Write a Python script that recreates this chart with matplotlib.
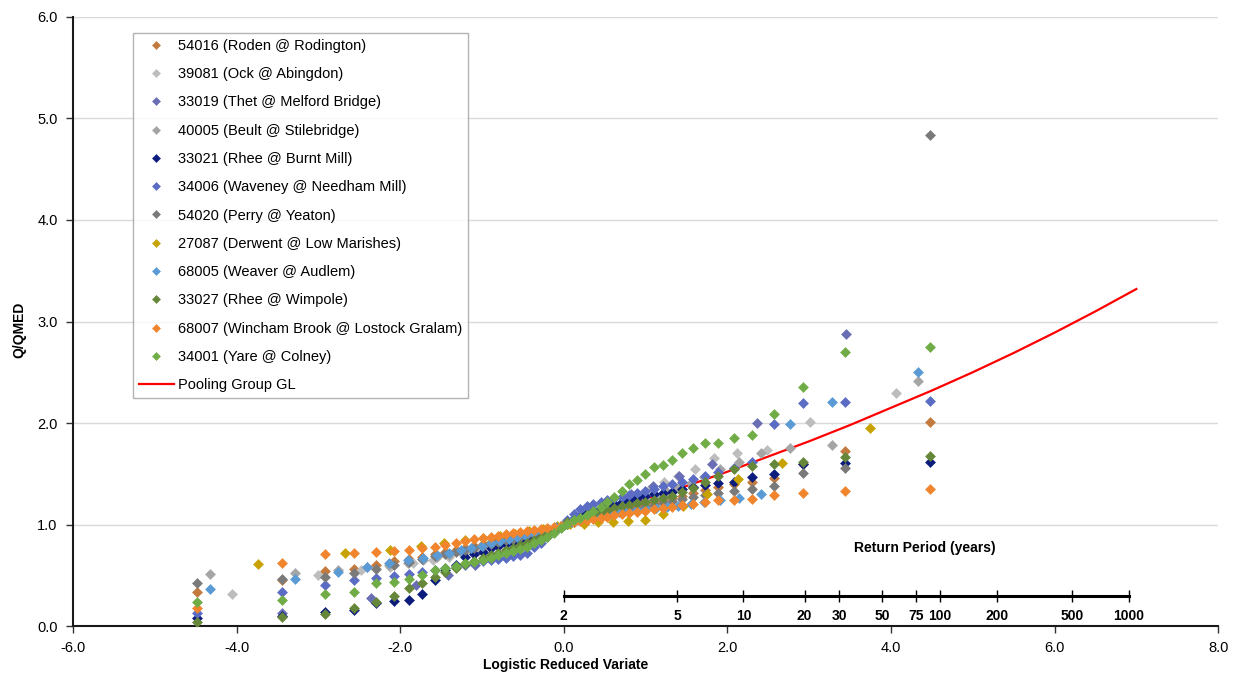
import numpy as np
import matplotlib
matplotlib.use("Agg")
import matplotlib.pyplot as plt
from matplotlib.ticker import NullLocator

plt.rcParams["font.family"] = ["Liberation Sans", "DejaVu Sans"]

# ── plotting positions (logistic reduced variate) per record length ─────────
X50 = [-4.48, -3.44, -2.92, -2.57, -2.30, -2.08, -1.89, -1.73, -1.58, -1.45,
       -1.32, -1.21, -1.10, -0.99, -0.89, -0.80, -0.71, -0.62, -0.53, -0.45,
       -0.36, -0.28, -0.20, -0.12, -0.04, 0.04, 0.12, 0.20, 0.28, 0.36,
       0.45, 0.53, 0.62, 0.71, 0.80, 0.89, 0.99, 1.10, 1.21, 1.32,
       1.45, 1.58, 1.73, 1.89, 2.08, 2.30, 2.57, 2.92, 3.44, 4.48]
X43 = [-4.33, -3.28, -2.76, -2.41, -2.14, -1.91, -1.72, -1.55, -1.40, -1.26,
       -1.13, -1.00, -0.89, -0.78, -0.67, -0.57, -0.47, -0.38, -0.28, -0.19,
       -0.09, 0.00, 0.09, 0.19, 0.28, 0.38, 0.47, 0.57, 0.67, 0.78,
       0.89, 1.00, 1.13, 1.26, 1.40, 1.55, 1.72, 1.91, 2.14, 2.41,
       2.76, 3.28, 4.33]
X33 = [-4.06, -3.01, -2.48, -2.12, -1.84, -1.60, -1.40, -1.22, -1.05, -0.90,
       -0.76, -0.62, -0.49, -0.37, -0.24, -0.12, 0.00, 0.12, 0.24, 0.37,
       0.49, 0.62, 0.76, 0.90, 1.05, 1.22, 1.40, 1.60, 1.84, 2.12,
       2.48, 3.01, 4.06]
X24 = [-3.74, -2.67, -2.13, -1.75, -1.46, -1.21, -0.99, -0.78, -0.60, -0.42,
       -0.25, -0.08, 0.08, 0.25, 0.42, 0.60, 0.78, 0.99, 1.21, 1.46,
       1.75, 2.13, 2.67, 3.74]
X18 = [-3.45, -2.36, -1.81, -1.41, -1.09, -0.82, -0.57, -0.33, -0.11,
       0.11, 0.33, 0.57, 0.82, 1.09, 1.41, 1.81, 2.36, 3.45]

# ── Q/QMED per station (sorted) ─────────────────────────────────────────────
roden = [0.34, 0.45, 0.54, 0.56, 0.60, 0.64, 0.66, 0.68, 0.71, 0.73,
         0.75, 0.77, 0.79, 0.81, 0.83, 0.85, 0.86, 0.88, 0.90, 0.91,
         0.93, 0.94, 0.96, 0.97, 0.99, 1.01, 1.02, 1.04, 1.05, 1.07,
         1.08, 1.10, 1.11, 1.13, 1.15, 1.17, 1.19, 1.21, 1.23, 1.26,
         1.28, 1.31, 1.34, 1.37, 1.40, 1.42, 1.46, 1.60, 1.72, 2.01]
ock = [0.32, 0.50, 0.55, 0.58, 0.62, 0.65, 0.68, 0.71, 0.74, 0.77,
       0.80, 0.83, 0.86, 0.89, 0.93, 0.96, 1.00, 1.04, 1.08, 1.12,
       1.16, 1.20, 1.25, 1.30, 1.35, 1.42, 1.48, 1.55, 1.66, 1.70,
       1.73, 2.01, 2.30]
thet = [0.13, 0.28, 0.40, 0.50, 0.60, 0.68, 0.76, 0.85, 0.95,
        1.05, 1.15, 1.22, 1.30, 1.38, 1.48, 1.60, 2.00, 2.88]
beult = [0.51, 0.52, 0.55, 0.58, 0.60, 0.62, 0.65, 0.68, 0.70, 0.73,
         0.75, 0.78, 0.80, 0.83, 0.85, 0.87, 0.90, 0.92, 0.94, 0.96,
         0.98, 1.00, 1.02, 1.04, 1.06, 1.08, 1.11, 1.13, 1.16, 1.19,
         1.22, 1.25, 1.28, 1.32, 1.36, 1.41, 1.47, 1.55, 1.62, 1.70,
         1.75, 1.78, 2.41]
burnt_mill = [0.08, 0.10, 0.14, 0.16, 0.23, 0.25, 0.26, 0.32, 0.45, 0.55,
              0.60, 0.68, 0.71, 0.73, 0.77, 0.79, 0.81, 0.83, 0.85, 0.87,
              0.89, 0.92, 0.94, 0.97, 0.99, 1.01, 1.05, 1.08, 1.11, 1.13,
              1.16, 1.18, 1.20, 1.22, 1.24, 1.26, 1.28, 1.30, 1.31, 1.32,
              1.35, 1.37, 1.39, 1.41, 1.42, 1.47, 1.50, 1.60, 1.61, 1.62]
waveney = [0.13, 0.34, 0.40, 0.45, 0.47, 0.49, 0.51, 0.53, 0.55, 0.57,
           0.58, 0.60, 0.62, 0.64, 0.65, 0.66, 0.67, 0.69, 0.70, 0.72,
           0.78, 0.82, 0.88, 0.93, 0.98, 1.04, 1.10, 1.15, 1.18, 1.20,
           1.22, 1.24, 1.26, 1.27, 1.29, 1.31, 1.33, 1.35, 1.38, 1.40,
           1.42, 1.45, 1.48, 1.52, 1.56, 1.62, 1.99, 2.20, 2.21, 2.22]
perry = [0.42, 0.46, 0.48, 0.52, 0.56, 0.60, 0.63, 0.66, 0.69, 0.71,
         0.73, 0.75, 0.77, 0.79, 0.81, 0.83, 0.85, 0.86, 0.88, 0.90,
         0.92, 0.93, 0.95, 0.97, 0.99, 1.01, 1.02, 1.04, 1.05, 1.07,
         1.08, 1.10, 1.11, 1.12, 1.14, 1.15, 1.17, 1.19, 1.21, 1.23,
         1.25, 1.27, 1.29, 1.31, 1.33, 1.35, 1.38, 1.51, 1.56, 4.84]
derwent = [0.61, 0.72, 0.75, 0.79, 0.82, 0.85, 0.87, 0.89, 0.91, 0.94,
           0.96, 0.99, 1.01, 1.01, 1.02, 1.02, 1.03, 1.04, 1.10, 1.18,
           1.30, 1.45, 1.61, 1.95]
weaver = [0.36, 0.46, 0.53, 0.58, 0.62, 0.65, 0.67, 0.70, 0.72, 0.75,
          0.77, 0.79, 0.82, 0.84, 0.86, 0.88, 0.90, 0.92, 0.94, 0.96,
          0.98, 1.00, 1.02, 1.04, 1.06, 1.08, 1.09, 1.10, 1.12, 1.13,
          1.14, 1.15, 1.16, 1.17, 1.18, 1.20, 1.22, 1.24, 1.26, 1.30,
          1.99, 2.21, 2.50]
wimpole = [0.04, 0.09, 0.12, 0.18, 0.24, 0.30, 0.37, 0.42, 0.48, 0.53,
           0.57, 0.61, 0.64, 0.67, 0.70, 0.72, 0.75, 0.77, 0.80, 0.82,
           0.85, 0.88, 0.91, 0.94, 0.98, 1.02, 1.04, 1.06, 1.08, 1.10,
           1.12, 1.14, 1.16, 1.18, 1.19, 1.21, 1.22, 1.24, 1.26, 1.28,
           1.32, 1.36, 1.42, 1.48, 1.55, 1.58, 1.60, 1.62, 1.67, 1.68]
wincham = [0.18, 0.62, 0.71, 0.72, 0.73, 0.74, 0.75, 0.77, 0.78, 0.80,
           0.82, 0.84, 0.86, 0.87, 0.88, 0.89, 0.91, 0.92, 0.93, 0.94,
           0.95, 0.96, 0.97, 0.98, 0.99, 1.01, 1.02, 1.03, 1.04, 1.05,
           1.06, 1.07, 1.09, 1.10, 1.11, 1.12, 1.13, 1.15, 1.16, 1.17,
           1.19, 1.20, 1.22, 1.24, 1.24, 1.25, 1.29, 1.31, 1.33, 1.35]
yare = [0.24, 0.26, 0.32, 0.34, 0.42, 0.43, 0.46, 0.50, 0.55, 0.57,
        0.59, 0.62, 0.63, 0.65, 0.67, 0.70, 0.72, 0.74, 0.76, 0.78,
        0.82, 0.85, 0.88, 0.92, 0.97, 1.01, 1.04, 1.06, 1.09, 1.13,
        1.17, 1.22, 1.27, 1.33, 1.40, 1.44, 1.50, 1.57, 1.59, 1.64,
        1.70, 1.75, 1.80, 1.80, 1.85, 1.88, 2.09, 2.35, 2.70, 2.75]

stations = [
    ("54016 (Roden @ Rodington)",              X50, roden,      "#C47A3F"),
    ("39081 (Ock @ Abingdon)",                 X33, ock,        "#BDBDBD"),
    ("33019 (Thet @ Melford Bridge)",          X18, thet,       "#6A6FB5"),
    ("40005 (Beult @ Stilebridge)",            X43, beult,      "#A5A5A5"),
    ("33021 (Rhee @ Burnt Mill)",              X50, burnt_mill, "#0B1C7D"),
    ("34006 (Waveney @ Needham Mill)",         X50, waveney,    "#5B6CC4"),
    ("54020 (Perry @ Yeaton)",                 X50, perry,      "#7A7A7A"),
    ("27087 (Derwent @ Low Marishes)",         X24, derwent,    "#C8A200"),
    ("68005 (Weaver @ Audlem)",                X43, weaver,     "#5B9BD5"),
    ("33027 (Rhee @ Wimpole)",                 X50, wimpole,    "#66873A"),
    ("68007 (Wincham Brook @ Lostock Gralam)", X50, wincham,    "#F0852D"),
    ("34001 (Yare @ Colney)",                  X50, yare,       "#70AD47"),
]

# pooling group growth curve
gl_x = [0.0, 0.5, 1.0, 1.5, 2.0, 2.5, 3.0, 3.5, 4.0, 4.5, 5.0, 5.5, 6.0, 6.5, 7.0]
gl_y = [1.00, 1.12, 1.25, 1.38, 1.52, 1.67, 1.82, 1.98, 2.15, 2.32, 2.50,
        2.69, 2.89, 3.10, 3.32]

# return period scale
rp_years = [2, 5, 10, 20, 30, 50, 75, 100, 200, 500, 1000]
rp_level = 0.3

fig = plt.figure(figsize=(12.44, 6.79), dpi=100)
ax = fig.add_axes([0.0587, 0.078, 0.9205, 0.897])

for label, xs, ys, col in stations:
    ax.plot(xs, ys, linestyle="none", marker="D", markersize=4.9,
            color=col, markeredgecolor=col, markeredgewidth=0.4,
            label=label, zorder=3)
ax.plot(gl_x, gl_y, color="#FF0000", lw=1.6, label="Pooling Group GL", zorder=2)

ax.set_xlim(-6, 8)
ax.set_ylim(0, 6)
ax.set_xticks(np.arange(-6, 9, 2))
ax.set_yticks(np.arange(0, 7, 1))
ax.xaxis.set_major_formatter(lambda v, p: f"{v:.1f}")
ax.yaxis.set_major_formatter(lambda v, p: f"{v:.1f}")
ax.tick_params(axis="both", labelsize=10.5, direction="out", length=5,
               width=1, pad=6, color="#333333")
ax.grid(axis="y", color="#D9D9D9", lw=1)
ax.set_axisbelow(True)
for s in ["top", "right"]:
    ax.spines[s].set_visible(False)
for s in ["left", "bottom"]:
    ax.spines[s].set_linewidth(1.5)
    ax.spines[s].set_color("#1a1a1a")

ax.set_xlabel("Logistic Reduced Variate", fontsize=10, fontweight="bold")
ax.xaxis.set_label_coords(0.43, -0.053)
ax.set_ylabel("Q/QMED", fontsize=10, fontweight="bold")
ax.yaxis.set_label_coords(-0.041, 0.486)

# return-period axis drawn inside the plot
def to_rp(x):
    return 1.0 + np.exp(np.asarray(x, float))

def from_rp(t):
    return np.log(np.clip(np.asarray(t, float) - 1.0, 1e-12, None))

sec = ax.secondary_xaxis(rp_level / 6.0, functions=(to_rp, from_rp))
sec.set_xticks(rp_years, labels=[str(t) for t in rp_years])
sec.xaxis.set_minor_locator(NullLocator())
sec.spines["bottom"].set_bounds(rp_years[0], rp_years[-1])
sec.spines["bottom"].set_linewidth(2.2)
sec.tick_params(axis="x", direction="inout", length=8, width=1, pad=6,
                labelsize=10)
for lab in sec.get_xticklabels():
    lab.set_fontweight("bold")
ax.text(4.41, 0.77, "Return Period (years)", ha="center", va="center",
        fontsize=10, fontweight="bold")

leg = ax.legend(loc="upper left", bbox_to_anchor=(0.0524, 0.9737),
                borderaxespad=0, frameon=True, fancybox=False, fontsize=10.5,
                labelspacing=0.98, handlelength=2.4, handletextpad=0.3,
                borderpad=0.4, numpoints=1, markerscale=0.75)
leg.get_frame().set_edgecolor("#A0A0A0")
leg.get_frame().set_linewidth(1)

fig.savefig("out.png", dpi=100)
